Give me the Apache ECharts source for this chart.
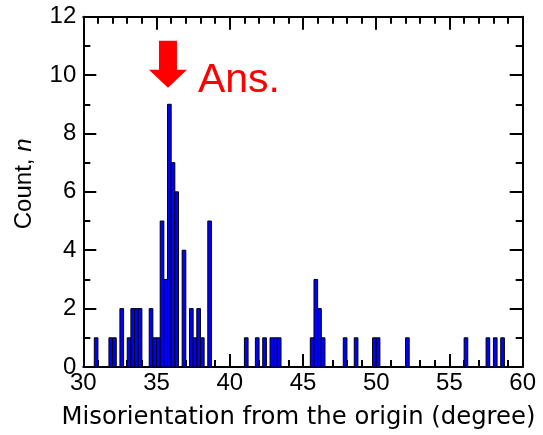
<!DOCTYPE html>
<html>
<head>
<meta charset="utf-8">
<script src="https://cdn.jsdelivr.net/npm/echarts@6/dist/echarts.min.js"></script>
<style>
  html, body { margin: 0; padding: 0; background: #fff; }
  #chart { width: 543px; height: 435px; }
</style>
</head>
<body>
<div id="chart"></div>
<script>
// histogram bins: left edge of each 0.25 degree bin and its count
var binWidth = 0.25;
var binStart = [30.75, 31.75, 32.0, 32.5, 33.0, 33.25, 33.5, 33.75, 34.5, 34.75,
    35.0, 35.25, 35.5, 35.75, 36.0, 36.25, 36.75, 37.25, 37.5, 37.75,
    38.0, 38.5, 41.0, 41.75, 42.25, 42.75, 43.0, 43.25, 45.5, 45.75,
    46.0, 46.25, 47.75, 48.5, 49.75, 50.0, 52.0, 56.0, 57.5, 58.0, 58.5];
var binCount = [1, 1, 1, 2, 1, 2, 2, 2, 2, 1,
    1, 5, 3, 9, 7, 6, 4, 2, 1, 2,
    1, 5, 1, 1, 1, 1, 1, 1, 1, 3,
    2, 1, 1, 1, 1, 1, 1, 1, 1, 1, 1];

// "Ans." arrow annotation (data units)
var answerPoint = [35.78, 10.37];
var answerText = "Ans.";

var font = "Liberation Sans, Arial, sans-serif";
var wideFont = "DejaVu Sans, sans-serif";

var chart = echarts.init(document.getElementById("chart"));

function xAxisCfg(pos, labels) {
    return {
        type: "value",
        position: pos,
        min: 30,
        max: 60,
        interval: 5,
        axisLine: { show: true, onZero: false, lineStyle: { color: "#000", width: 2 } },
        axisTick: { show: true, inside: true, length: 13, lineStyle: { color: "#000", width: 2 } },
        minorTick: { show: true, splitNumber: 5, length: 7, lineStyle: { color: "#000", width: 2 } },
        splitLine: { show: false },
        axisLabel: { show: labels, color: "#000", fontSize: 24, fontFamily: font, margin: 4 },
        name: labels ? "Misorientation from the origin (degree)" : "",
        nameLocation: "middle",
        nameGap: 39,
        nameTextStyle: { color: "#000", fontSize: 24.3, fontFamily: wideFont, padding: [0, 9, 0, 0] }
    };
}

function yAxisCfg(pos, labels) {
    return {
        type: "value",
        position: pos,
        min: 0,
        max: 12,
        interval: 2,
        axisLine: { show: true, onZero: false, lineStyle: { color: "#000", width: 2 } },
        axisTick: { show: true, inside: true, length: 13, lineStyle: { color: "#000", width: 2 } },
        minorTick: { show: true, splitNumber: 2, length: 7, lineStyle: { color: "#000", width: 2 } },
        splitLine: { show: false },
        axisLabel: { show: labels, color: "#000", fontSize: 24, fontFamily: font, margin: 7 },
        name: labels ? "Count, {i|n}" : "",
        nameLocation: "middle",
        nameGap: 47,
        nameTextStyle: {
            color: "#000", fontSize: 24, fontFamily: font, padding: [0, 0, 0, 16],
            rich: { i: { fontStyle: "italic", fontSize: 24, fontFamily: font, color: "#000" } }
        }
    };
}

chart.setOption({
    animation: false,
    backgroundColor: "#fff",
    grid: { left: 83.3, right: 20.3, top: 16.7, bottom: 66.5 },
    xAxis: [xAxisCfg("bottom", true), xAxisCfg("top", false)],
    yAxis: [yAxisCfg("left", true), yAxisCfg("right", false)],
    series: [
        {
            type: "custom",
            xAxisIndex: 0,
            yAxisIndex: 0,
            encode: { x: 0, y: 1 },
            data: binStart.map(function (s, i) { return [s, binCount[i]]; }),
            renderItem: function (params, api) {
                var x0 = api.value(0);
                var top = api.coord([x0, api.value(1)]);
                var bottom = api.coord([x0 + binWidth, 0]);
                return {
                    type: "rect",
                    shape: { x: top[0], y: top[1], width: bottom[0] - top[0], height: bottom[1] - top[1] },
                    style: { fill: "#0000ff", stroke: "#000", lineWidth: 1 }
                };
            }
        },
        {
            type: "scatter",
            xAxisIndex: 0,
            yAxisIndex: 0,
            data: [answerPoint],
            symbol: "path://M10,0 L28,0 L28,29 L38,29 L19,47 L0,29 L10,29 Z",
            symbolSize: [38, 47],
            itemStyle: { color: "#ff0000", opacity: 1 },
            label: {
                show: true,
                position: "right",
                distance: 11,
                offset: [0, 16],
                formatter: answerText,
                color: "#ff0000",
                fontSize: 41,
                fontFamily: font
            },
            emphasis: { disabled: true }
        }
    ]
});
</script>
</body>
</html>
